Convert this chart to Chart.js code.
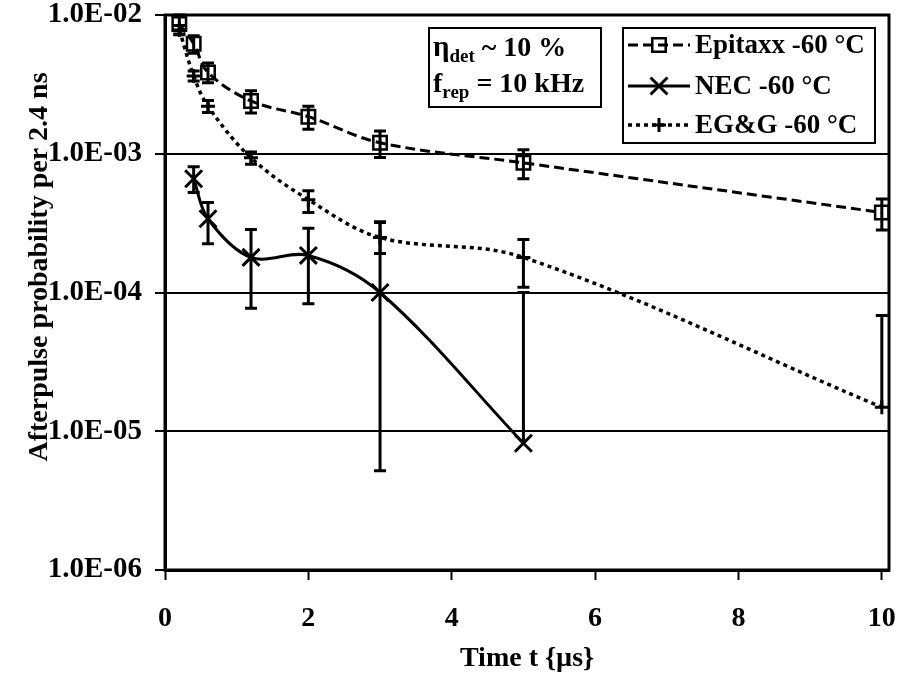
<!DOCTYPE html>
<html>
<head>
<meta charset="utf-8">
<script src="https://cdn.jsdelivr.net/npm/chart.js@4.4.1/dist/chart.umd.min.js"></script>
<style>
html, body { margin: 0; padding: 0; background: #fff; }
#wrap { width: 904px; height: 674px; }
</style>
</head>
<body>
<div id="wrap"><canvas id="chart-afterpulse" width="904" height="674"></canvas></div>
<script>
// tick values
var xTicks = [0, 2, 4, 6, 8, 10];
var yTicks = [1e-6, 1e-5, 1e-4, 1e-3, 1e-2];

// Epitaxx -60 C
var epitaxxX = [0.2, 0.4, 0.6, 1.2, 2, 3, 5, 10];
var epitaxxY = [8.6e-3, 6.2e-3, 3.85e-3, 2.4e-3, 1.85e-3, 1.2e-3, 8.6e-4, 3.77e-4];
var epitaxxHi = [1.0e-2, 7.1e-3, 4.5e-3, 2.84e-3, 2.2e-3, 1.46e-3, 1.07e-3, 4.72e-4];
var epitaxxLo = [7.3e-3, 5.3e-3, 3.25e-3, 1.97e-3, 1.5e-3, 9.4e-4, 6.6e-4, 2.82e-4];

// NEC -60 C
var necX = [0.4, 0.6, 1.2, 2, 3, 5];
var necY = [6.6e-4, 3.4e-4, 1.79e-4, 1.85e-4, 1.0e-4, 8.2e-6];
var necHi = [8.05e-4, 4.45e-4, 2.85e-4, 2.9e-4, 3.2e-4, 1.0e-4];
var necLo = [5.25e-4, 2.25e-4, 7.7e-5, 8.3e-5, 5.2e-6, null];

// EG&G -60 C
var eggX = [0.2, 0.4, 0.6, 1.2, 2, 3, 5, 10];
var eggY = [7.8e-3, 3.64e-3, 2.2e-3, 9.35e-4, 4.67e-4, 2.49e-4, 1.79e-4, 1.49e-5];
var eggHi = [8.4e-3, 3.95e-3, 2.42e-3, 1.03e-3, 5.42e-4, 3.24e-4, 2.41e-4, 6.84e-5];
var eggLo = [7.2e-3, 3.35e-3, 1.98e-3, 8.4e-4, 3.77e-4, 1.91e-4, 1.09e-4, null];

var FONT = 'Liberation Serif, Times New Roman, serif';

function toPoints(xs, ys) {
    return xs.map(function (x, i) { return { x: x, y: ys[i] }; });
}

function noPad(s) {
    s.paddingTop = 0;
    s.paddingBottom = 0;
    s.paddingLeft = 0;
    s.paddingRight = 0;
}

var errorBars = {
    id: 'errorBars',
    beforeDatasetsDraw: function (chart) {
        var ctx = chart.ctx;
        var xs = chart.scales.x, ys = chart.scales.y;
        var area = chart.chartArea;
        ctx.save();
        ctx.beginPath();
        ctx.rect(area.left, area.top - 2, area.right - area.left, area.bottom - area.top + 4);
        ctx.clip();
        ctx.strokeStyle = '#000';
        ctx.lineWidth = 3;
        chart.data.datasets.forEach(function (ds) {
            ds.data.forEach(function (p, j) {
                var px = xs.getPixelForValue(p.x);
                var yHi = ys.getPixelForValue(ds.errHi[j]);
                var lo = ds.errLo[j];
                var yLo = ys.getPixelForValue(lo != null ? lo : p.y);
                ctx.beginPath();
                ctx.moveTo(px, yHi);
                ctx.lineTo(px, yLo);
                ctx.moveTo(px - 6, yHi);
                ctx.lineTo(px + 6, yHi);
                if (lo != null) {
                    ctx.moveTo(px - 6, yLo);
                    ctx.lineTo(px + 6, yLo);
                }
                ctx.stroke();
            });
        });
        ctx.restore();
    }
};

var decorations = {
    id: 'decorations',
    afterDraw: function (chart) {
        var ctx = chart.ctx;
        var area = chart.chartArea;
        ctx.save();
        // plot frame
        ctx.strokeStyle = '#000';
        ctx.lineWidth = 3;
        ctx.setLineDash([]);
        ctx.strokeRect(area.left, area.top, area.right - area.left, area.bottom - area.top);

        // y axis title
        ctx.fillStyle = '#000';
        ctx.font = 'bold 28px ' + FONT;
        ctx.textAlign = 'center';
        ctx.textBaseline = 'middle';
        ctx.translate(40, 267);
        ctx.rotate(-Math.PI / 2);
        ctx.fillText('Afterpulse probability per 2.4 ns', 0, 0);
        ctx.restore();

        // annotation box
        ctx.save();
        ctx.lineWidth = 2;
        ctx.strokeStyle = '#000';
        ctx.fillStyle = '#fff';
        ctx.fillRect(429, 28, 172, 79);
        ctx.strokeRect(429, 28, 172, 79);
        ctx.fillStyle = '#000';
        ctx.textAlign = 'left';
        ctx.textBaseline = 'alphabetic';
        var runs = [
            [[ 'η', 29, 0 ], [ 'det', 19, 6 ], [ ' ~ 10 %', 28, 0 ]],
            [[ 'f', 28, 0 ], [ 'rep', 19, 6 ], [ ' = 10 kHz', 28, 0 ]]
        ];
        var baselines = [56, 92];
        runs.forEach(function (line, k) {
            var x = 433;
            line.forEach(function (r) {
                ctx.font = 'bold ' + r[1] + 'px ' + FONT;
                ctx.fillText(r[0], x, baselines[k] + r[2]);
                x += ctx.measureText(r[0]).width;
            });
        });
        ctx.restore();

        // legend
        ctx.save();
        ctx.lineWidth = 2;
        ctx.strokeStyle = '#000';
        ctx.fillStyle = '#fff';
        ctx.fillRect(623, 28, 252, 115);
        ctx.strokeRect(623, 28, 252, 115);
        var rowY = [45, 86, 125];
        chart.data.datasets.forEach(function (ds, i) {
            var y = rowY[i];
            ctx.save();
            ctx.strokeStyle = '#000';
            ctx.lineWidth = ds.borderWidth;
            ctx.setLineDash(ds.borderDash || []);
            ctx.beginPath();
            ctx.moveTo(628, y);
            ctx.lineTo(690, y);
            ctx.stroke();
            ctx.setLineDash([]);
            ctx.lineWidth = ds.pointBorderWidth;
            ctx.fillStyle = 'rgba(0,0,0,0)';
            Chart.helpers.drawPoint(ctx, {
                pointStyle: ds.pointStyle,
                radius: ds.pointRadius,
                rotation: 0,
                borderWidth: ds.pointBorderWidth
            }, 659, y);
            ctx.restore();
            ctx.fillStyle = '#000';
            ctx.font = 'bold 27px ' + FONT;
            ctx.textAlign = 'left';
            ctx.textBaseline = 'middle';
            ctx.fillText(ds.label, 695, y + 1);
        });
        ctx.restore();
    }
};

var ctx = document.getElementById('chart-afterpulse').getContext('2d');
var chart = new Chart(ctx, {
    type: 'line',
    data: {
        datasets: [{
            label: 'Epitaxx -60 °C',
            data: toPoints(epitaxxX, epitaxxY),
            errHi: epitaxxHi,
            errLo: epitaxxLo,
            borderColor: '#000',
            borderWidth: 3,
            borderDash: [10, 5],
            pointStyle: 'rect',
            pointRadius: 9.5,
            pointBorderWidth: 2.5,
            pointBorderColor: '#000',
            pointBackgroundColor: 'rgba(0,0,0,0)',
            tension: 0.35,
            fill: false
        }, {
            label: 'NEC -60 °C',
            data: toPoints(necX, necY),
            errHi: necHi,
            errLo: necLo,
            borderColor: '#000',
            borderWidth: 3,
            pointStyle: 'crossRot',
            pointRadius: 12,
            pointBorderWidth: 3,
            pointBorderColor: '#000',
            pointBackgroundColor: 'rgba(0,0,0,0)',
            tension: 0.35,
            fill: false
        }, {
            label: 'EG&G -60 °C',
            data: toPoints(eggX, eggY),
            errHi: eggHi,
            errLo: eggLo,
            borderColor: '#000',
            borderWidth: 3.5,
            borderDash: [4, 4],
            pointStyle: 'cross',
            pointRadius: 7,
            pointBorderWidth: 3,
            pointBorderColor: '#000',
            pointBackgroundColor: 'rgba(0,0,0,0)',
            tension: 0.35,
            fill: false
        }]
    },
    options: {
        responsive: false,
        animation: false,
        devicePixelRatio: 1,
        layout: { padding: { left: 0, right: 15, top: 14, bottom: 0 } },
        plugins: {
            legend: { display: false },
            tooltip: { enabled: false }
        },
        scales: {
            x: {
                type: 'linear',
                min: 0,
                max: 10.1,
                afterBuildTicks: function (s) { s.ticks = xTicks.map(function (v) { return { value: v }; }); },
                afterFit: function (s) { s.height = 104; noPad(s); },
                grid: { drawOnChartArea: false, drawTicks: true, tickLength: 10, tickWidth: 2, tickColor: '#000', color: '#000' },
                border: { color: '#000', width: 3 },
                ticks: {
                    color: '#000',
                    font: { family: FONT, size: 28, weight: 'bold' },
                    padding: 22,
                    maxRotation: 0,
                    autoSkip: false
                },
                title: {
                    display: true,
                    text: 'Time t {µs}',
                    color: '#000',
                    font: { family: FONT, size: 28, weight: 'bold' },
                    padding: { top: 0, bottom: -2 }
                }
            },
            y: {
                type: 'logarithmic',
                min: 1e-6,
                max: 1e-2,
                afterBuildTicks: function (s) { s.ticks = yTicks.map(function (v) { return { value: v }; }); },
                afterFit: function (s) { s.width = 165; noPad(s); },
                grid: { color: '#000', lineWidth: 2, tickLength: 10, tickWidth: 2 },
                border: { color: '#000', width: 3 },
                ticks: {
                    color: '#000',
                    font: { family: FONT, size: 29, weight: 'bold' },
                    padding: 13,
                    autoSkip: false,
                    callback: function (v) {
                        var e = Math.round(Math.log10(v));
                        return '1.0E-' + (Math.abs(e) < 10 ? '0' : '') + Math.abs(e);
                    }
                }
            }
        }
    },
    plugins: [errorBars, decorations]
});
</script>
</body>
</html>
